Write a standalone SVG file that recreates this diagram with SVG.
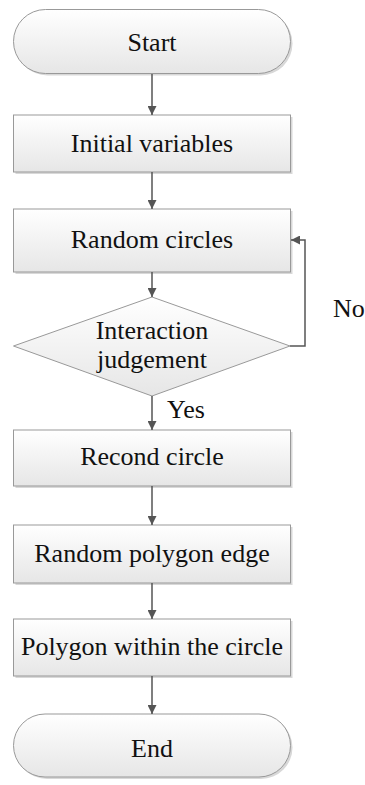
<svg xmlns="http://www.w3.org/2000/svg" width="365" height="785" viewBox="0 0 365 785">
<defs>
<linearGradient id="g" x1="0" y1="0" x2="0" y2="1">
<stop offset="0" stop-color="#ffffff"/>
<stop offset="1" stop-color="#e6e6e6"/>
</linearGradient>
<marker id="ah" viewBox="0 0 10 10" refX="10" refY="5" markerWidth="9" markerHeight="9" markerUnits="userSpaceOnUse" orient="auto">
<path d="M0,0 L10,5 L0,10 z" fill="#555"/>
</marker>
</defs>
<style>
.s{fill:url(#g);stroke:#999;stroke-width:1}
.sh{fill:#d8d8d8;stroke:none}
text{font-family:'Liberation Serif','Times New Roman',serif;font-size:26px;fill:#111}
.t{text-anchor:middle}
.c{fill:none;stroke:#555;stroke-width:1.5;marker-end:url(#ah)}
</style>
<rect width="365" height="785" fill="#fff"/>
<g id="start">
<rect class="sh" x="15.5" y="11.5" width="277" height="64" rx="32"/>
<rect class="s" x="13.5" y="9.5" width="277" height="64" rx="32"/>
<text class="t" x="152" y="51">Start</text>
</g>
<g id="init">
<rect class="sh" x="15.5" y="117" width="277" height="57"/>
<rect class="s" x="13.5" y="115" width="277" height="57"/>
<text class="t" x="152" y="152">Initial variables</text>
</g>
<g id="random-circles">
<rect class="sh" x="15.5" y="211" width="277" height="63"/>
<rect class="s" x="13.5" y="209" width="277" height="63"/>
<text class="t" x="152" y="248">Random circles</text>
</g>
<g id="judge">
<polygon class="s" points="152,297 290,346 152,396 13.5,346"/>
<text class="t" x="152" y="339">Interaction</text>
<text class="t" x="152" y="368">judgement</text>
</g>
<g id="record">
<rect class="sh" x="15.5" y="432" width="277" height="56"/>
<rect class="s" x="13.5" y="430" width="277" height="56"/>
<text class="t" x="152" y="465">Recond circle</text>
</g>
<g id="polyedge">
<rect class="sh" x="15.5" y="527" width="277" height="58"/>
<rect class="s" x="13.5" y="525" width="277" height="58"/>
<text class="t" x="152" y="562">Random polygon edge</text>
</g>
<g id="within">
<rect class="sh" x="15.5" y="621" width="277" height="57"/>
<rect class="s" x="13.5" y="619" width="277" height="57"/>
<text class="t" x="152" y="655">Polygon within the circle</text>
</g>
<g id="end">
<rect class="sh" x="15.5" y="716" width="277" height="63" rx="31.5"/>
<rect class="s" x="13.5" y="714" width="277" height="63" rx="31.5"/>
<text class="t" x="152" y="757">End</text>
</g>
<g id="connectors">
<line class="c" x1="152" y1="74" x2="152" y2="115"/>
<line class="c" x1="152" y1="172" x2="152" y2="209"/>
<line class="c" x1="152" y1="272" x2="152" y2="297"/>
<line class="c" x1="152" y1="396" x2="152" y2="430"/>
<line class="c" x1="152" y1="486" x2="152" y2="525"/>
<line class="c" x1="152" y1="583" x2="152" y2="619"/>
<line class="c" x1="152" y1="676" x2="152" y2="714"/>
<polyline class="c" points="290,346 305,346 305,240 291,240"/>
<text x="167" y="418">Yes</text>
<text x="333" y="317">No</text>
</g>
</svg>
